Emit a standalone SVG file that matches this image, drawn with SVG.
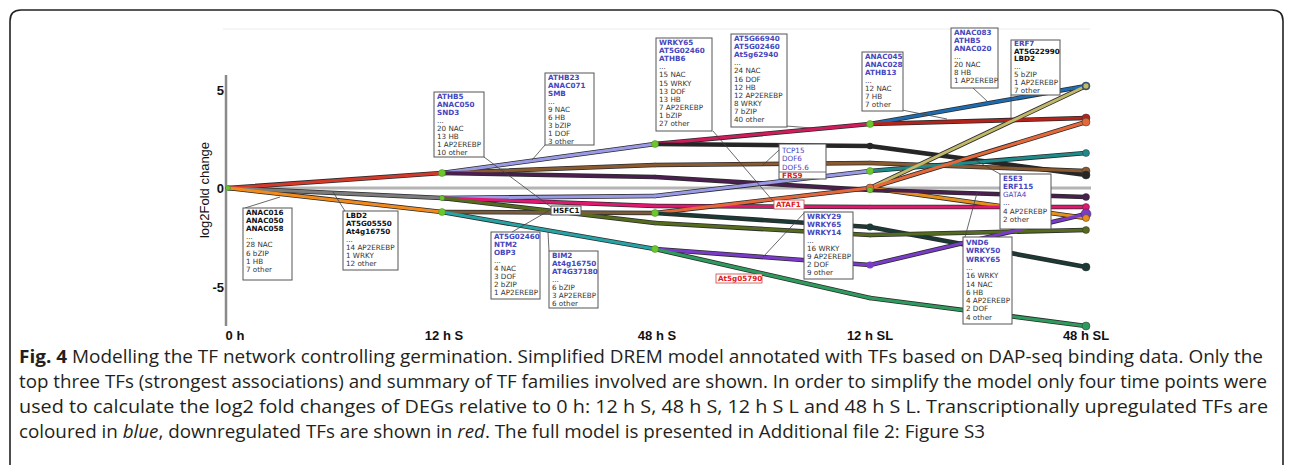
<svg xmlns="http://www.w3.org/2000/svg" xmlns:xlink="http://www.w3.org/1999/xlink" width="1292" height="465" viewBox="0 0 1292 465">
<style>
  .bt{font-family:"DejaVu Sans",sans-serif;font-size:7.2px;fill:#333}
  .tf{fill:#4646c0;font-weight:bold}
  .tfn{fill:#4646c0}
  .tk{fill:#111;font-weight:bold}
  .tr{fill:#e41a1c;font-weight:bold}
  .box{fill:#fff;stroke:#555;stroke-width:1}
  .rbox{fill:#fff;stroke:#c44;stroke-width:0.8}
  .lead{stroke:#444;stroke-width:0.8;fill:none}
  .ol use{stroke:#2a2a2a;stroke-width:4.6;fill:none;stroke-linecap:round}
  .col use{stroke-width:3;fill:none;stroke-linecap:round}
  .gn{fill:#6cc72f;stroke:#3d8a1a;stroke-width:0.5}
  .ax{font-family:"Liberation Sans",Arial,sans-serif;font-weight:bold;font-size:13px;fill:#111}
  .xl{font-family:"Liberation Sans Narrow","Liberation Sans",Arial,sans-serif;font-weight:bold;font-size:13px;fill:#111;text-anchor:middle}
  .cap{font-family:"Open Sans","Liberation Sans",Arial,sans-serif;font-size:17.5px;fill:#231f20}
</style>
<defs>
  <!-- path segments, time point x: 228, 442, 655, 870, 1086 -->
  <path id="s01" d="M228,188 L442,173"/>
  <path id="s02" d="M228,188 L442,198"/>
  <path id="s03" d="M228,188 L442,212"/>
  <path id="s11" d="M442,173 L655,144"/>
  <path id="s12" d="M442,173 L655,165"/>
  <path id="s13" d="M442,173 L655,177"/>
  <path id="s14" d="M442,198 L655,196"/>
  <path id="s15" d="M442,198 L655,206"/>
  <path id="s16" d="M442,198 L655,223"/>
  <path id="s17" d="M442,212 L655,213"/>
  <path id="s18" d="M442,212 L655,249"/>
  <path id="s21" d="M655,144 L870,124"/>
  <path id="s22" d="M655,144 L870,146"/>
  <path id="s23" d="M655,165 L870,163"/>
  <path id="s24" d="M655,177 L870,190"/>
  <path id="s25" d="M655,196 L870,171"/>
  <path id="s26" d="M655,206 L870,207"/>
  <path id="s27" d="M655,213 L870,188"/>
  <path id="s28" d="M655,213 L870,227"/>
  <path id="s29" d="M655,223 L870,235"/>
  <path id="s2a" d="M655,249 L870,265"/>
  <path id="s2b" d="M655,249 L870,298"/>
  <path id="s31" d="M870,124 L1086,86"/>
  <path id="s32" d="M870,124 L1086,118"/>
  <path id="s33" d="M870,146 L1086,175"/>
  <path id="s34" d="M870,163 L1086,171"/>
  <path id="s35" d="M870,171 L1086,153"/>
  <path id="s36" d="M870,188 L1086,86"/>
  <path id="s37" d="M870,188 L1086,122"/>
  <path id="s38" d="M870,188 L1086,218"/>
  <path id="s39" d="M870,190 L1086,197"/>
  <path id="s3a" d="M870,207 L1086,207"/>
  <path id="s3b" d="M870,227 L1086,267"/>
  <path id="s3c" d="M870,235 L1086,230"/>
  <path id="s3d" d="M870,265 L1086,214"/>
  <path id="s3e" d="M870,298 L1086,326"/>
</defs>

<!-- outer frame -->
<path d="M10,465 V21 Q10,10 21,10 H1272 Q1283,10 1283,21 V465" fill="none" stroke="#222" stroke-width="1.6"/>

<!-- axes -->
<g id="axes">
  <line x1="223" y1="29" x2="1090" y2="29" stroke="#ececec" stroke-width="1"/>
  <line x1="226" y1="75" x2="226" y2="326" stroke="#8a8a8a" stroke-width="2.5"/>
  <line x1="226" y1="188" x2="1091" y2="188" stroke="#b4b4b4" stroke-width="3"/>
  <text class="ax" x="224" y="95" text-anchor="end">5</text>
  <text class="ax" x="224" y="193" text-anchor="end">0</text>
  <text class="ax" x="224" y="292" text-anchor="end">-5</text>
  <text transform="translate(209,190) rotate(-90)" font-family="'Liberation Sans',Arial,sans-serif" font-size="13" fill="#111" text-anchor="middle">log2Fold change</text>
  <text class="xl" x="235" y="340">0 h</text>
  <text class="xl" x="444" y="340">12 h S</text>
  <text class="xl" x="657" y="340">48 h S</text>
  <text class="xl" x="870" y="340">12 h SL</text>
  <text class="xl" x="1086" y="340">48 h SL</text>
</g>

<!-- expression paths -->
<g id="connectors">
  <g class="ol">
    <use xlink:href="#s01"/><use xlink:href="#s02"/><use xlink:href="#s03"/>
    <use xlink:href="#s11"/><use xlink:href="#s12"/><use xlink:href="#s13"/><use xlink:href="#s14"/><use xlink:href="#s15"/><use xlink:href="#s16"/><use xlink:href="#s17"/><use xlink:href="#s18"/>
    <use xlink:href="#s21"/><use xlink:href="#s22"/><use xlink:href="#s23"/><use xlink:href="#s24"/><use xlink:href="#s25"/><use xlink:href="#s26"/><use xlink:href="#s27"/><use xlink:href="#s28"/><use xlink:href="#s29"/><use xlink:href="#s2a"/><use xlink:href="#s2b"/>
    <use xlink:href="#s31"/><use xlink:href="#s32"/><use xlink:href="#s33"/><use xlink:href="#s34"/><use xlink:href="#s35"/><use xlink:href="#s36"/><use xlink:href="#s37"/><use xlink:href="#s38"/><use xlink:href="#s39"/><use xlink:href="#s3a"/><use xlink:href="#s3b"/><use xlink:href="#s3c"/><use xlink:href="#s3d"/><use xlink:href="#s3e"/>
  </g>
  <g class="col">
    <use xlink:href="#s01" stroke="#d33a2c"/>
    <use xlink:href="#s02" stroke="#7c7c7c"/>
    <use xlink:href="#s03" stroke="#f28a1c"/>
    <use xlink:href="#s11" stroke="#9a9ae6"/>
    <use xlink:href="#s12" stroke="#8a5a30"/>
    <use xlink:href="#s13" stroke="#4a1f4f"/>
    <use xlink:href="#s14" stroke="#9a9ae6"/>
    <use xlink:href="#s15" stroke="#e0186f"/>
    <use xlink:href="#s16" stroke="#556b1f"/>
    <use xlink:href="#s17" stroke="#7a5c3a"/>
    <use xlink:href="#s18" stroke="#27a3a6"/>
    <use xlink:href="#s21" stroke="#d01c5c"/>
    <use xlink:href="#s22" stroke="#262626"/>
    <use xlink:href="#s23" stroke="#8a5a30"/>
    <use xlink:href="#s24" stroke="#4a1f4f"/>
    <use xlink:href="#s25" stroke="#9a9ae6"/>
    <use xlink:href="#s26" stroke="#e0186f"/>
    <use xlink:href="#s27" stroke="#e5683a"/>
    <use xlink:href="#s28" stroke="#1b3a36"/>
    <use xlink:href="#s29" stroke="#556b1f"/>
    <use xlink:href="#s2a" stroke="#7a3cc8"/>
    <use xlink:href="#s2b" stroke="#2e9a5e"/>
    <use xlink:href="#s31" stroke="#1f6bb0"/>
    <use xlink:href="#s32" stroke="#b3241c"/>
    <use xlink:href="#s33" stroke="#262626"/>
    <use xlink:href="#s34" stroke="#8a5a30"/>
    <use xlink:href="#s35" stroke="#1e8a8a"/>
    <use xlink:href="#s36" stroke="#c2b86a"/>
    <use xlink:href="#s37" stroke="#e5683a"/>
    <use xlink:href="#s38" stroke="#e8901c"/>
    <use xlink:href="#s39" stroke="#4a1f4f"/>
    <use xlink:href="#s3a" stroke="#e0186f"/>
    <use xlink:href="#s3b" stroke="#1b3a36"/>
    <use xlink:href="#s3c" stroke="#556b1f"/>
    <use xlink:href="#s3d" stroke="#7a3cc8"/>
    <use xlink:href="#s3e" stroke="#2e9a5e"/>
  </g>
  <!-- split nodes -->
  <circle class="gn" cx="228" cy="188" r="2.5"/>
  <circle class="gn" cx="442" cy="173" r="3.5"/>
  <circle class="gn" cx="442" cy="198" r="2.5"/>
  <circle class="gn" cx="442" cy="212" r="3.5"/>
  <circle class="gn" cx="655" cy="144" r="3.5"/>
  <circle class="gn" cx="655" cy="213" r="3.5"/>
  <circle class="gn" cx="655" cy="249" r="3.5"/>
  <circle class="gn" cx="870" cy="124" r="3.5"/>
  <circle cx="870" cy="146" r="3.2" fill="#262626"/>
  <circle class="gn" cx="870" cy="171" r="3.5"/>
  <circle cx="870" cy="188" r="4" fill="#e5683a" stroke="#333" stroke-width="0.5"/>
  <circle class="gn" cx="870" cy="190" r="2.8"/>
  <circle cx="870" cy="227" r="3.5" fill="#1b3a36"/>
  <circle cx="870" cy="265" r="3.5" fill="#7a3cc8"/>
  <!-- end points -->
  <g stroke="#333" stroke-width="0.5">
    <circle cx="1086" cy="86" r="4" fill="#1f6bb0"/>
    <circle cx="1086" cy="86" r="3" fill="#c2b86a"/>
    <circle cx="1086" cy="118" r="4" fill="#b3241c"/>
    <circle cx="1086" cy="122" r="4" fill="#e5683a"/>
    <circle cx="1086" cy="153" r="3.5" fill="#1e8a8a"/>
    <circle cx="1086" cy="171" r="4" fill="#8a5a30"/>
    <circle cx="1086" cy="175" r="4" fill="#262626"/>
    <circle cx="1086" cy="197" r="3.5" fill="#4a1f4f"/>
    <circle cx="1086" cy="207" r="3.5" fill="#e0186f"/>
    <circle cx="1086" cy="214" r="5" fill="#7a3cc8"/>
    <circle cx="1086" cy="218" r="3.5" fill="#e8901c"/>
    <circle cx="1086" cy="230" r="3.5" fill="#556b1f"/>
    <circle cx="1086" cy="267" r="4" fill="#1b3a36"/>
    <circle cx="1086" cy="326" r="4" fill="#2e9a5e"/>
  </g>
  <!-- label leaders -->
  <g class="lead">
    <line x1="484" y1="157" x2="551" y2="207"/>
    <line x1="545" y1="145" x2="532" y2="160"/>
    <line x1="713" y1="131" x2="773" y2="201"/>
    <line x1="786" y1="126" x2="812" y2="128"/>
    <line x1="902" y1="110" x2="947" y2="119"/>
    <line x1="973" y1="88" x2="987" y2="101"/>
    <line x1="1011" y1="95" x2="1011" y2="120"/>
    <line x1="245" y1="208" x2="280" y2="197"/>
    <line x1="345" y1="211" x2="333" y2="192"/>
    <line x1="512" y1="232" x2="550" y2="210"/>
    <line x1="549" y1="251" x2="548" y2="232"/>
    <line x1="779" y1="150" x2="762" y2="166"/>
    <line x1="804" y1="213" x2="763" y2="257"/>
    <line x1="1000" y1="174" x2="975" y2="160"/>
    <line x1="965" y1="237" x2="977" y2="193"/>
  </g>
</g>

<!-- TF annotation boxes -->
<g id="n-athb5">
  <rect class="box" x="434" y="92" width="50" height="65"/>
  <text class="bt" x="437" y="98.5"><tspan class="tf">ATHB5</tspan><tspan class="tf" x="437" dy="8.1">ANAC050</tspan><tspan class="tf" x="437" dy="8.1">SND3</tspan><tspan x="437" dy="8.1">...</tspan><tspan x="437" dy="8.1">20 NAC</tspan><tspan x="437" dy="8.1">13 HB</tspan><tspan x="437" dy="8.1">1 AP2EREBP</tspan><tspan x="437" dy="8.1">10 other</tspan></text>
</g>
<g id="n-athb23">
  <rect class="box" x="545" y="73" width="49" height="72"/>
  <text class="bt" x="548" y="79.5"><tspan class="tf">ATHB23</tspan><tspan class="tf" x="548" dy="8">ANAC071</tspan><tspan class="tf" x="548" dy="8">SMB</tspan><tspan x="548" dy="8">...</tspan><tspan x="548" dy="8">9 NAC</tspan><tspan x="548" dy="8">6 HB</tspan><tspan x="548" dy="8">3 bZIP</tspan><tspan x="548" dy="8">1 DOF</tspan><tspan x="548" dy="8">3 other</tspan></text>
</g>
<g id="n-wrky65">
  <rect class="box" x="656" y="38" width="56" height="93"/>
  <text class="bt" x="659" y="44.5"><tspan class="tf">WRKY65</tspan><tspan class="tf" x="659" dy="8.2">AT5G02460</tspan><tspan class="tf" x="659" dy="8.2">ATHB6</tspan><tspan x="659" dy="8.2">...</tspan><tspan x="659" dy="8.2">15 NAC</tspan><tspan x="659" dy="8.2">15 WRKY</tspan><tspan x="659" dy="8.2">13 DOF</tspan><tspan x="659" dy="8.2">13 HB</tspan><tspan x="659" dy="8.2">7 AP2EREBP</tspan><tspan x="659" dy="8.2">1 bZIP</tspan><tspan x="659" dy="8.2">27 other</tspan></text>
</g>
<g id="n-at5g66940">
  <rect class="box" x="731" y="34" width="56" height="93"/>
  <text class="bt" x="734" y="40.5"><tspan class="tf">AT5G66940</tspan><tspan class="tf" x="734" dy="8.2">AT5G02460</tspan><tspan class="tf" x="734" dy="8.2">At5g62940</tspan><tspan x="734" dy="8.2">...</tspan><tspan x="734" dy="8.2">24 NAC</tspan><tspan x="734" dy="8.2">16 DOF</tspan><tspan x="734" dy="8.2">12 HB</tspan><tspan x="734" dy="8.2">12 AP2EREBP</tspan><tspan x="734" dy="8.2">8 WRKY</tspan><tspan x="734" dy="8.2">7 bZIP</tspan><tspan x="734" dy="8.2">40 other</tspan></text>
</g>
<g id="n-anac045">
  <rect class="box" x="862" y="52" width="41" height="59"/>
  <text class="bt" x="865" y="58.5"><tspan class="tf">ANAC045</tspan><tspan class="tf" x="865" dy="8.1">ANAC028</tspan><tspan class="tf" x="865" dy="8.1">ATHB13</tspan><tspan x="865" dy="8.1">...</tspan><tspan x="865" dy="8.1">12 NAC</tspan><tspan x="865" dy="8.1">7 HB</tspan><tspan x="865" dy="8.1">7 other</tspan></text>
</g>
<g id="n-anac083">
  <rect class="box" x="951" y="28" width="47" height="60"/>
  <text class="bt" x="954" y="34.5"><tspan class="tf">ANAC083</tspan><tspan class="tf" x="954" dy="8.1">ATHB5</tspan><tspan class="tf" x="954" dy="8.1">ANAC020</tspan><tspan x="954" dy="8.1">...</tspan><tspan x="954" dy="8.1">20 NAC</tspan><tspan x="954" dy="8.1">8 HB</tspan><tspan x="954" dy="8.1">1 AP2EREBP</tspan></text>
</g>
<g id="n-erf7">
  <rect class="box" x="1011" y="40" width="49" height="55"/>
  <text class="bt" x="1014" y="45.8"><tspan class="tf">ERF7</tspan><tspan class="tk" x="1014" dy="7.8">AT5G22990</tspan><tspan class="tk" x="1014" dy="7.8">LBD2</tspan><tspan x="1014" dy="7.8">...</tspan><tspan x="1014" dy="7.8">5 bZIP</tspan><tspan x="1014" dy="7.8">1 AP2EREBP</tspan><tspan x="1014" dy="7.8">7 other</tspan></text>
</g>
<g id="n-anac016">
  <rect class="box" x="243" y="208" width="49" height="72"/>
  <text class="bt" x="246" y="215"><tspan class="tk">ANAC016</tspan><tspan class="tk" x="246" dy="8.1">ANAC050</tspan><tspan class="tk" x="246" dy="8.1">ANAC058</tspan><tspan x="246" dy="8.1">...</tspan><tspan x="246" dy="8.1">28 NAC</tspan><tspan x="246" dy="8.1">6 bZIP</tspan><tspan x="246" dy="8.1">1 HB</tspan><tspan x="246" dy="8.1">7 other</tspan></text>
</g>
<g id="n-lbd2">
  <rect class="box" x="343" y="211" width="55" height="59"/>
  <text class="bt" x="346" y="217.5"><tspan class="tk">LBD2</tspan><tspan class="tk" x="346" dy="8.1">AT5G05550</tspan><tspan class="tk" x="346" dy="8.1">At4g16750</tspan><tspan x="346" dy="8.1">...</tspan><tspan x="346" dy="8.1">14 AP2EREBP</tspan><tspan x="346" dy="8.1">1 WRKY</tspan><tspan x="346" dy="8.1">12 other</tspan></text>
</g>
<g id="n-hsfc1">
  <rect class="box" x="551" y="206" width="30" height="9"/>
  <text class="bt tk" x="553" y="213">HSFC1</text>
</g>
<g id="n-at5g02460">
  <rect class="box" x="491" y="232" width="49" height="67"/>
  <text class="bt" x="494" y="238.5"><tspan class="tf">AT5G02460</tspan><tspan class="tf" x="494" dy="8.1">NTM2</tspan><tspan class="tf" x="494" dy="8.1">OBP3</tspan><tspan x="494" dy="8.1">...</tspan><tspan x="494" dy="8.1">4 NAC</tspan><tspan x="494" dy="8.1">3 DOF</tspan><tspan x="494" dy="8.1">2 bZIP</tspan><tspan x="494" dy="8.1">1 AP2EREBP</tspan></text>
</g>
<g id="n-bim2">
  <rect class="box" x="549" y="251" width="49" height="57"/>
  <text class="bt" x="552" y="257.5"><tspan class="tf">BIM2</tspan><tspan class="tf" x="552" dy="8.1">At4g16750</tspan><tspan class="tf" x="552" dy="8.1">AT4G37180</tspan><tspan x="552" dy="8.1">...</tspan><tspan x="552" dy="8.1">6 bZIP</tspan><tspan x="552" dy="8.1">3 AP2EREBP</tspan><tspan x="552" dy="8.1">6 other</tspan></text>
</g>
<g id="n-tcp15">
  <rect class="box" x="779" y="144" width="47" height="35"/>
  <line x1="779" y1="172" x2="826" y2="172" stroke="#555" stroke-width="0.8"/>
  <text class="bt" x="782" y="152.5"><tspan class="tfn">TCP15</tspan><tspan class="tfn" x="782" dy="8.5">DOF6</tspan><tspan class="tfn" x="782" dy="8.5">DOF5.6</tspan><tspan class="tr" x="782" dy="8">FRS9</tspan></text>
</g>
<g id="n-ataf1">
  <rect class="rbox" x="774" y="200" width="30" height="9"/>
  <text class="bt tr" x="776" y="207.2">ATAF1</text>
</g>
<g id="n-wrky29">
  <rect class="box" x="804" y="212" width="49" height="67"/>
  <text class="bt" x="807" y="218.5"><tspan class="tf">WRKY29</tspan><tspan class="tf" x="807" dy="8.1">WRKY65</tspan><tspan class="tf" x="807" dy="8.1">WRKY14</tspan><tspan x="807" dy="8.1">...</tspan><tspan x="807" dy="8.1">16 WRKY</tspan><tspan x="807" dy="8.1">9 AP2EREBP</tspan><tspan x="807" dy="8.1">2 DOF</tspan><tspan x="807" dy="8.1">9 other</tspan></text>
</g>
<g id="n-at5g05790">
  <rect class="rbox" x="716" y="274" width="46" height="9"/>
  <text class="bt tr" x="718" y="281.2">At5g05790</text>
</g>
<g id="n-e5e3">
  <rect class="box" x="1000" y="174" width="51" height="55"/>
  <text class="bt" x="1003" y="180.5"><tspan class="tf">E5E3</tspan><tspan class="tf" x="1003" dy="8.3">ERF115</tspan><tspan class="tfn" x="1003" dy="8.3">GATA4</tspan><tspan x="1003" dy="8.3">...</tspan><tspan x="1003" dy="8.3">4 AP2EREBP</tspan><tspan x="1003" dy="8.3">2 other</tspan></text>
</g>
<g id="n-vnd6">
  <rect class="box" x="963" y="237" width="49" height="87"/>
  <text class="bt" x="966" y="245"><tspan class="tf">VND6</tspan><tspan class="tf" x="966" dy="8.3">WRKY50</tspan><tspan class="tf" x="966" dy="8.3">WRKY65</tspan><tspan x="966" dy="8.3">...</tspan><tspan x="966" dy="8.3">16 WRKY</tspan><tspan x="966" dy="8.3">14 NAC</tspan><tspan x="966" dy="8.3">6 HB</tspan><tspan x="966" dy="8.3">4 AP2EREBP</tspan><tspan x="966" dy="8.3">2 DOF</tspan><tspan x="966" dy="8.3">4 other</tspan></text>
</g>

<!-- caption -->
<g id="caption">
  <text class="cap" x="19" y="363" textLength="1244" lengthAdjust="spacingAndGlyphs"><tspan font-weight="bold">Fig. 4</tspan> Modelling the TF network controlling germination. Simplified DREM model annotated with TFs based on DAP-seq binding data. Only the</text>
  <text class="cap" x="19" y="388" textLength="1248" lengthAdjust="spacingAndGlyphs">top three TFs (strongest associations) and summary of TF families involved are shown. In order to simplify the model only four time points were</text>
  <text class="cap" x="19" y="413" textLength="1249" lengthAdjust="spacingAndGlyphs">used to calculate the log2 fold changes of DEGs relative to 0 h: 12 h S, 48 h S, 12 h S L and 48 h S L. Transcriptionally upregulated TFs are</text>
  <text class="cap" x="19" y="438" textLength="966" lengthAdjust="spacingAndGlyphs">coloured in <tspan font-style="italic">blue</tspan>, downregulated TFs are shown in <tspan font-style="italic">red</tspan>. The full model is presented in Additional file 2: Figure S3</text>
</g>
</svg>
